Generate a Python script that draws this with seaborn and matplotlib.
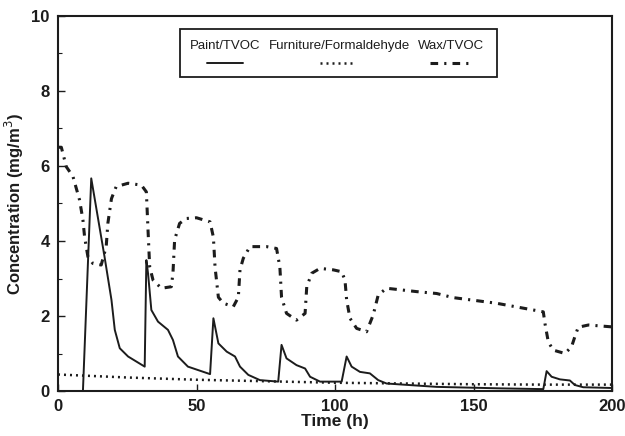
import numpy as np
import pandas as pd
import matplotlib
matplotlib.use("Agg")
import matplotlib.pyplot as plt
import seaborn as sns
from matplotlib.patches import Rectangle

# ---- data ----
paint_t = [0, 9.0, 12.0, 16.8, 19.3, 20.5, 22.3, 25.3, 31.3, 31.9,
           32.5, 33.7, 36.1, 39.7, 41.5, 43.3, 46.9, 50.5, 54.9, 56.1,
           57.9, 60.9, 63.9, 65.7, 68.7, 72.9, 79.5, 80.7, 82.5, 86.1,
           89.2, 91.0, 94.6, 102.4, 104.2, 106.0, 109.0, 112.6, 115.6, 118.6,
           136.7, 160, 175.2, 176.4, 178.2, 181.2, 184.8, 186.6, 189.6, 200]
paint_c = [0, 0, 5.67, 3.58, 2.43, 1.63, 1.14, 0.92, 0.65, 3.49,
           3.14, 2.16, 1.85, 1.63, 1.36, 0.92, 0.65, 0.56, 0.45, 1.94,
           1.27, 1.05, 0.92, 0.65, 0.43, 0.29, 0.25, 1.23, 0.87, 0.69,
           0.6, 0.38, 0.25, 0.25, 0.92, 0.65, 0.51, 0.47, 0.29, 0.2,
           0.11, 0.07, 0.05, 0.53, 0.38, 0.31, 0.28, 0.16, 0.1, 0.08]

furn_t = [0, 25, 50, 75, 100, 125, 150, 175, 200]
furn_c = [0.44, 0.36, 0.30, 0.26, 0.22, 0.20, 0.18, 0.17, 0.17]

wax_t = [0, 1.2, 3.0, 5.4, 7.8, 9.0, 9.6, 10.8, 12.6, 15.6,
         17.4, 18.0, 19.3, 21.0, 25.3, 30.1, 31.9, 32.5, 33.1, 34.3,
         37.3, 40.9, 41.5, 42.1, 43.9, 46.3, 50, 54.9, 56.1, 56.7,
         57.9, 59.7, 63.3, 65.1, 65.7, 66.9, 69.3, 75.3, 78.9, 80.1,
         80.7, 82.5, 86.1, 89.2, 89.8, 91.6, 94.6, 99.4, 102.4, 103.6,
         104.2, 105.4, 107.8, 111.4, 113.8, 115.6, 118.6, 129.5, 136.7, 142.7,
         158.3, 171.6, 175.2, 175.8, 177.0, 178.8, 183.0, 185.4, 186.6, 187.8,
         191.5, 200]
wax_c = [6.5, 6.5, 5.98, 5.72, 5.09, 4.56, 4.11, 3.58, 3.4, 3.36,
         3.85, 4.47, 5.13, 5.45, 5.54, 5.49, 5.31, 4.29, 3.31, 2.96,
         2.74, 2.78, 3.14, 4.03, 4.47, 4.6, 4.62, 4.51, 4.1, 3.3,
         2.5, 2.34, 2.25, 2.5, 3.23, 3.54, 3.85, 3.85, 3.8, 3.3,
         2.5, 2.07, 1.89, 2.07, 2.78, 3.14, 3.27, 3.23, 3.18, 2.96,
         2.43, 1.94, 1.67, 1.58, 2.03, 2.56, 2.74, 2.65, 2.6, 2.49,
         2.34, 2.16, 2.11, 1.8, 1.31, 1.09, 1.0, 1.18, 1.45, 1.7,
         1.76, 1.71]

series_labels = ["Paint/TVOC", "Furniture/Formaldehyde", "Wax/TVOC"]
x_ticks = [0, 50, 100, 150, 200]
y_ticks = [0, 2, 4, 6, 8, 10]

# ---- style ----
sns.set_style("ticks")
plt.rcParams["font.family"] = ["Liberation Sans", "DejaVu Sans"]

fig = plt.figure(figsize=(6.25, 4.36), dpi=100)
ax = fig.add_axes([58/625, (436-391)/436, (612-58)/625, (391-16)/436])

ink = "#1c1c1c"
df_p = pd.DataFrame({"t": paint_t, "c": paint_c})
df_f = pd.DataFrame({"t": furn_t, "c": furn_c})
df_w = pd.DataFrame({"t": wax_t, "c": wax_c})

styles = [
    dict(color=ink, lw=1.4, ls="-"),
    dict(color=ink, lw=1.8, ls=(0, (0.8, 1.6))),
    dict(color=ink, lw=2.2, ls=(0, (2.5, 2.0, 0.7, 2.0))),
]

for df, st in zip([df_p, df_f, df_w], styles):
    sns.lineplot(data=df, x="t", y="c", ax=ax, estimator=None, sort=False,
                 color=st["color"], linewidth=st["lw"], linestyle=st["ls"])

ax.set_xlim(0, 200)
ax.set_ylim(0, 10)
ax.set_xticks(x_ticks)
ax.set_yticks(y_ticks)
ax.set_yticks([1, 3, 5, 7, 9], minor=True)
ax.tick_params(axis="both", which="major", direction="in", length=5, width=1.0,
               labelsize=12, colors=ink, pad=6)
ax.tick_params(axis="y", which="minor", direction="in", length=3, width=0.8, colors=ink)
for lab in ax.get_xticklabels() + ax.get_yticklabels():
    lab.set_fontweight("bold")
for s in ax.spines.values():
    s.set_linewidth(1.5)
    s.set_color(ink)
    s.set_visible(True)

ax.set_xlabel("Time (h)", fontsize=12.5, fontweight="bold", color=ink, labelpad=0)
ax.set_ylabel("Concentration (mg/m$^3$)", fontsize=12, fontweight="bold", color=ink, labelpad=4)

# ---- legend (labels above the line samples, as in the reference) ----
def axx(px):
    return (px - 58) / 554

def axy(py):
    return (391 - py) / 375

ax.add_patch(Rectangle((axx(180), axy(77)), axx(497) - axx(180), axy(29) - axy(77),
                       transform=ax.transAxes, fill=False, lw=1.3, edgecolor=ink, zorder=5))
text_cx = [225, 340, 451]
seg = [(207, 243), (320, 355), (430, 468)]
for lab, cx, (a, b), st in zip(series_labels, text_cx, seg, styles):
    ax.text(axx(cx), axy(46), lab, transform=ax.transAxes, ha="center", va="center",
            fontsize=9.5, color=ink, zorder=6)
    ax.plot([axx(a), axx(b)], [axy(63), axy(63)], transform=ax.transAxes,
            color=st["color"], lw=st["lw"], ls=st["ls"], zorder=6)

fig.savefig("out.png", dpi=100)
